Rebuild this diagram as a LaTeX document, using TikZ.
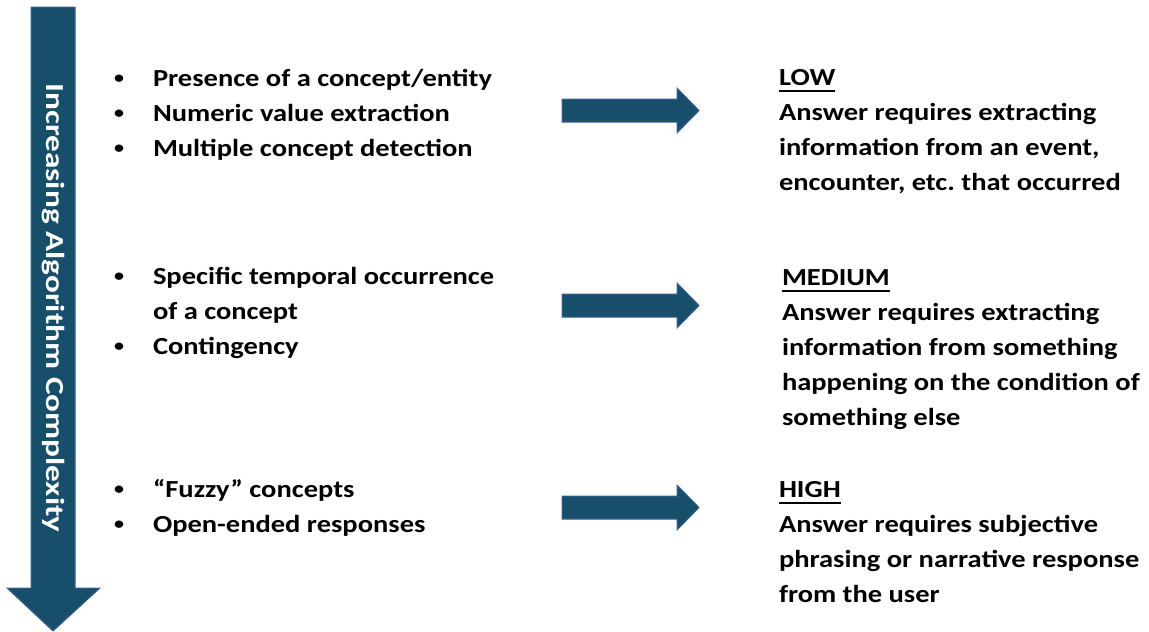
\documentclass[tikz,border=0pt]{standalone}
\usepackage{fontspec}
\setmainfont{Carlito}
\usepackage{graphicx}

\definecolor{arrowfill}{HTML}{174E6A}
\definecolor{arrowline}{HTML}{3A5F96}

% text block: lines set in a tabular, slightly compressed vertically
\newcommand{\txtblock}[2]{%
  \fontsize{28.5pt}{40.7pt}\selectfont\bfseries\frenchspacing
  \scalebox{1}[0.86]{\begin{tabular}[t]{@{}#1@{}}#2\end{tabular}}}
% small bullet followed by the indent of the item text
\newcommand{\bul}{\makebox[40pt][l]{\hspace{1pt}\raisebox{3pt}{\fontsize{20pt}{20pt}\selectfont\textbullet}}}
% level heading with a heavier underline
\newlength{\lvlw}
\newcommand{\lvl}[1]{\settowidth{\lvlw}{#1}#1\llap{\rule[-8pt]{\lvlw}{2.4pt}}}

\tikzset{
  shape arrow/.style={fill=arrowfill, draw=arrowline, line width=1pt, line join=miter},
  textblock/.style={anchor=base west, inner sep=0pt, outer sep=0pt, text=black},
}

\begin{document}
\begin{tikzpicture}[x=1pt,y=-1pt]
\useasboundingbox (0,0) rectangle (1149,632);

% vertical complexity arrow
\draw[shape arrow] (31,7) -- (75,7) -- (75,588) -- (100,588) -- (53,631)
  -- (7,588) -- (31,588) -- cycle;
\node (axis) [rotate=-90, inner sep=0pt, text=white] at (53,308)
  {\fontsize{26pt}{30pt}\selectfont\bfseries\scalebox{1.28}[1]{Increasing Algorithm Complexity}};

% horizontal arrows
\foreach \name/\yc in {a1/110.5, a2/305.5, a3/507.5}{
  \draw[shape arrow] (562,\yc-11.5) -- (677,\yc-11.5) -- (677,\yc-22.5)
    -- (699,\yc) -- (677,\yc+22.5) -- (677,\yc+11.5) -- (562,\yc+11.5) -- cycle;
}

% question types
\node (q1) [textblock] at (113,86) {\txtblock{l}{%
  \bul Presence of a concept/entity\\
  \bul Numeric value extraction\\
  \bul Multiple concept detection}};
\node (q2) [textblock] at (113,284) {\txtblock{l}{%
  \bul Specific temporal occurrence\\
  \hspace{40pt}of a concept\\
  \bul Contingency}};
\node (q3) [textblock] at (113,497) {\txtblock{l}{%
  \bul “Fuzzy” concepts\\
  \bul Open-ended responses}};

% complexity levels
\node (low) [textblock] at (779,85) {\txtblock{l}{%
  \lvl{LOW}\\
  Answer requires extracting\\
  information from an event,\\
  encounter, etc. that occurred}};
\node (medium) [textblock] at (782,285) {\txtblock{l}{%
  \lvl{MEDIUM}\\
  Answer requires extracting\\
  information from something\\
  happening on the condition of\\
  something else}};
\node (high) [textblock] at (779,497) {\txtblock{l}{%
  \lvl{HIGH}\\
  Answer requires subjective\\
  phrasing or narrative response\\
  from the user}};
\end{tikzpicture}
\end{document}
